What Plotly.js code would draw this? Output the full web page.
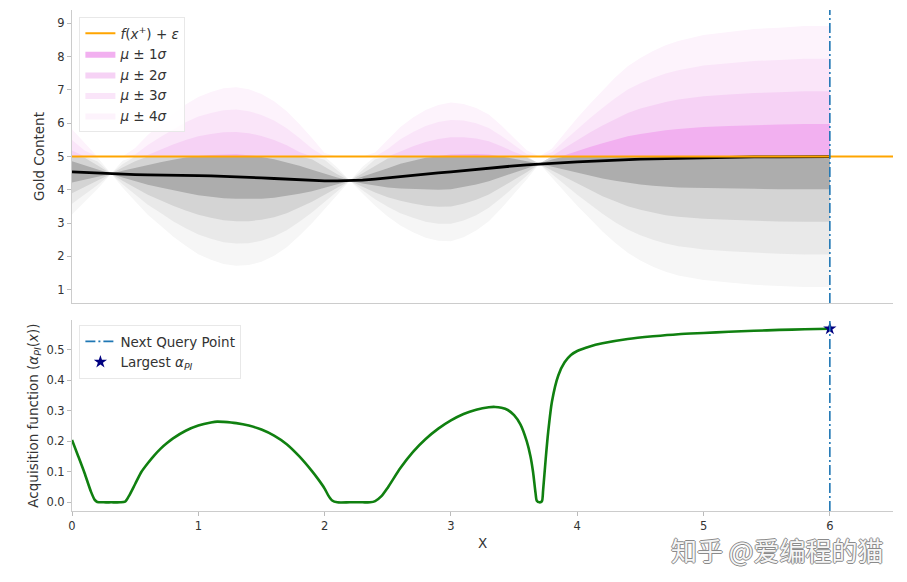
<!DOCTYPE html>
<html>
<head>
<meta charset="utf-8">
<script src="https://cdn.plot.ly/plotly-3.0.1.min.js"></script>
<style>html,body{margin:0;padding:0;background:#fff;}#chart{width:907px;height:582px;}</style>
</head>
<body>
<div id="chart"></div>
<script>
// ---- data ----
const xGrid = [0.0,0.1,0.2,0.31,0.4,0.5,0.6,0.7,0.8,0.9,1.0,1.1,1.2,1.3,1.4,1.5,1.6,1.7,1.8,1.9,2.0,2.1,2.2,2.3,2.4,2.5,2.6,2.7,2.8,2.9,3.0,3.1,3.2,3.3,3.4,3.5,3.6,3.7,3.8,3.9,4.0,4.1,4.2,4.3,4.4,4.5,4.6,4.7,4.8,4.9,5.0,5.2,5.4,5.6,5.8,6.0];
const muVals = [4.54,4.52,4.50,4.48,4.47,4.46,4.45,4.45,4.44,4.44,4.43,4.42,4.41,4.40,4.38,4.36,4.34,4.32,4.30,4.28,4.27,4.27,4.27,4.29,4.32,4.36,4.41,4.45,4.48,4.51,4.54,4.58,4.62,4.66,4.69,4.72,4.75,4.78,4.80,4.82,4.84,4.86,4.87,4.89,4.91,4.92,4.93,4.94,4.95,4.96,4.97,4.98,4.99,4.99,5.00,5.00];
const sigmaVals = [0.32,0.22,0.12,0.00,0.10,0.20,0.30,0.38,0.46,0.53,0.59,0.63,0.66,0.67,0.66,0.63,0.58,0.51,0.42,0.32,0.21,0.10,0.00,0.10,0.20,0.29,0.37,0.43,0.48,0.51,0.52,0.50,0.46,0.40,0.31,0.21,0.11,0.00,0.11,0.22,0.33,0.43,0.53,0.62,0.70,0.76,0.81,0.85,0.88,0.90,0.92,0.94,0.96,0.97,0.98,0.98];
const threshold = 5.0;           // f(x+) + epsilon
const xLimits = [0, 6.5];

const xPI = [0.00,0.05,0.10,0.15,0.18,0.20,0.25,0.31,0.38,0.42,0.45,0.50,0.55,0.60,0.65,0.70,0.75,0.80,0.90,1.00,1.10,1.15,1.20,1.30,1.40,1.50,1.60,1.70,1.80,1.90,1.95,2.00,2.03,2.06,2.10,2.20,2.30,2.36,2.40,2.45,2.50,2.60,2.70,2.80,2.90,3.00,3.10,3.20,3.30,3.35,3.40,3.45,3.50,3.55,3.60,3.63,3.65,3.67,3.68,3.70,3.72,3.73,3.75,3.77,3.80,3.85,3.90,3.95,4.00,4.10,4.20,4.40,4.60,4.80,5.00,5.20,5.40,5.60,5.80,6.00];
const piVals = [0.204,0.150,0.095,0.035,0.008,0.001,0.0,0.0,0.0,0.002,0.020,0.060,0.100,0.128,0.153,0.175,0.193,0.209,0.234,0.251,0.261,0.264,0.263,0.259,0.251,0.238,0.218,0.190,0.150,0.102,0.075,0.045,0.022,0.006,0.0,0.0,0.0,0.0,0.004,0.020,0.048,0.112,0.165,0.207,0.241,0.268,0.289,0.303,0.311,0.312,0.309,0.302,0.285,0.255,0.200,0.150,0.100,0.030,0.005,0.0,0.003,0.040,0.140,0.230,0.330,0.415,0.458,0.482,0.495,0.510,0.520,0.534,0.543,0.550,0.554,0.558,0.561,0.564,0.566,0.568];
const nextQuery = 6.0;
const bestPI = 0.568;

const sigmaLevels = [4, 3, 2, 1];
const grayColors = {1:'#adadad', 2:'#d4d4d4', 3:'#e9e9e9', 4:'#f6f6f6'};
const pinkColors = {1:'#f2b0f0', 2:'#f6d2f5', 3:'#fae5f9', 4:'#fdf3fc'};

const FONT = 'DejaVu Sans, Liberation Sans, sans-serif';
const traces = [];

// gray (below threshold) bands
sigmaLevels.forEach(k => {
  const lo = muVals.map((m, i) => m - k * sigmaVals[i]);
  const hi = muVals.map((m, i) => Math.min(m + k * sigmaVals[i], threshold));
  traces.push({x: xGrid, y: lo, mode: 'lines', line: {width: 0}, showlegend: false, hoverinfo: 'skip', xaxis: 'x', yaxis: 'y'});
  traces.push({x: xGrid, y: hi, mode: 'lines', line: {width: 0}, fill: 'tonexty', fillcolor: grayColors[k], showlegend: false, hoverinfo: 'skip', xaxis: 'x', yaxis: 'y'});
});
// pink (above threshold) bands
sigmaLevels.forEach(k => {
  const lo = xGrid.map(() => threshold);
  const hi = muVals.map((m, i) => Math.max(m + k * sigmaVals[i], threshold));
  traces.push({x: xGrid, y: lo, mode: 'lines', line: {width: 0}, showlegend: false, hoverinfo: 'skip', xaxis: 'x', yaxis: 'y'});
  traces.push({x: xGrid, y: hi, mode: 'lines', line: {width: 0}, fill: 'tonexty', fillcolor: pinkColors[k],
    name: '<i>μ</i> ± ' + k + '<i>σ</i>', legendrank: 1 + k, showlegend: true, legend: 'legend', xaxis: 'x', yaxis: 'y'});
});
// mean
traces.push({x: xGrid, y: muVals, mode: 'lines', line: {color: '#000000', width: 2.8}, showlegend: false, xaxis: 'x', yaxis: 'y'});
// threshold line
traces.push({x: xLimits, y: xLimits.map(() => threshold), mode: 'lines', line: {color: '#ffa500', width: 2},
  name: '<i>f</i>(<i>x</i><sup>+</sup>) + <i>ε</i>', legendrank: 1, legend: 'legend', xaxis: 'x', yaxis: 'y'});

// acquisition
traces.push({x: xPI, y: piVals, mode: 'lines', line: {color: '#108010', width: 2.6, shape: 'spline', smoothing: 0.7}, showlegend: false, xaxis: 'x2', yaxis: 'y2'});
traces.push({x: [nextQuery], y: [bestPI], mode: 'markers', marker: {symbol: 'star', size: 10, color: '#000080'},
  name: 'Largest <i>α</i><sub><i>PI</i></sub>', legend: 'legend2', legendrank: 2, xaxis: 'x2', yaxis: 'y2'});

const axisCommon = {showgrid: false, zeroline: false, showline: true, linecolor: '#cccccc', linewidth: 1,
  ticks: 'outside', ticklen: 4, tickcolor: '#bbbbbb', tickfont: {family: FONT, size: 11.5, color: '#333'}};

const layout = {
  width: 907, height: 582,
  margin: {l: 72, r: 14, t: 10, b: 71},
  paper_bgcolor: '#ffffff', plot_bgcolor: '#ffffff',
  font: {family: FONT, size: 13.5, color: '#333'},
  xaxis: Object.assign({}, axisCommon, {domain: [0, 1], range: xLimits, anchor: 'y', showticklabels: false, ticks: ''}),
  yaxis: Object.assign({}, axisCommon, {domain: [0.415, 1], range: [0.6, 9.4], anchor: 'x', tickvals: [1,2,3,4,5,6,7,8,9],
    title: {text: 'Gold Content', font: {family: FONT, size: 13.5, color: '#333'}, standoff: 9}}),
  xaxis2: Object.assign({}, axisCommon, {domain: [0, 1], range: xLimits, anchor: 'y2', tickvals: [0,1,2,3,4,5,6],
    title: {text: 'X', font: {family: FONT, size: 13.5, color: '#333'}, standoff: 6}}),
  yaxis2: Object.assign({}, axisCommon, {domain: [0, 0.381], range: [-0.0284, 0.596], anchor: 'x2',
    tickvals: [0, 0.1, 0.2, 0.3, 0.4, 0.5], ticktext: ['0.0','0.1','0.2','0.3','0.4','0.5'],
    title: {text: 'Acquisition function (<i>α</i><sub><i>PI</i></sub>(<i>x</i>))', font: {family: FONT, size: 13.5, color: '#333'}, standoff: 4}}),
  legend: {x: 0.009, y: 0.986, xanchor: 'left', yanchor: 'top', traceorder: 'normal', bgcolor: 'rgba(255,255,255,0.85)', bordercolor: '#e8e8e8', borderwidth: 1,
    font: {family: FONT, size: 13.5, color: '#333'}},
  legend2: {x: 0.009, y: 0.371, xanchor: 'left', yanchor: 'top', traceorder: 'normal', bgcolor: 'rgba(255,255,255,0.85)', bordercolor: '#e8e8e8', borderwidth: 1,
    font: {family: FONT, size: 13.5, color: '#333'}},
  shapes: [
    {type: 'line', xref: 'x', yref: 'y domain', x0: nextQuery, x1: nextQuery, y0: 0, y1: 1, line: {color: '#1f77b4', width: 1.6, dash: '10px,3px,2px,3px'}},
    {type: 'line', xref: 'x2', yref: 'y2 domain', x0: nextQuery, x1: nextQuery, y0: 0, y1: 1, line: {color: '#1f77b4', width: 1.6, dash: '10px,3px,2px,3px'},
      showlegend: true, name: 'Next Query Point', legend: 'legend2', legendrank: 1}
  ],
  annotations: [
    {xref: 'paper', yref: 'paper', x: 0.99, y: -0.076, xanchor: 'right', yanchor: 'middle', showarrow: false,
      text: '知乎 @爱编程的猫', font: {family: 'Noto Sans CJK SC, sans-serif', size: 26, color: '#f6f6f6',
      shadow: '-1px 0 #8a8a8a, 1px 0 #8a8a8a, 0 1px #8a8a8a, 0 -1px #8a8a8a'}}
  ]
};

Plotly.newPlot('chart', traces, layout, {displayModeBar: false, staticPlot: true});
</script>
</body>
</html>
